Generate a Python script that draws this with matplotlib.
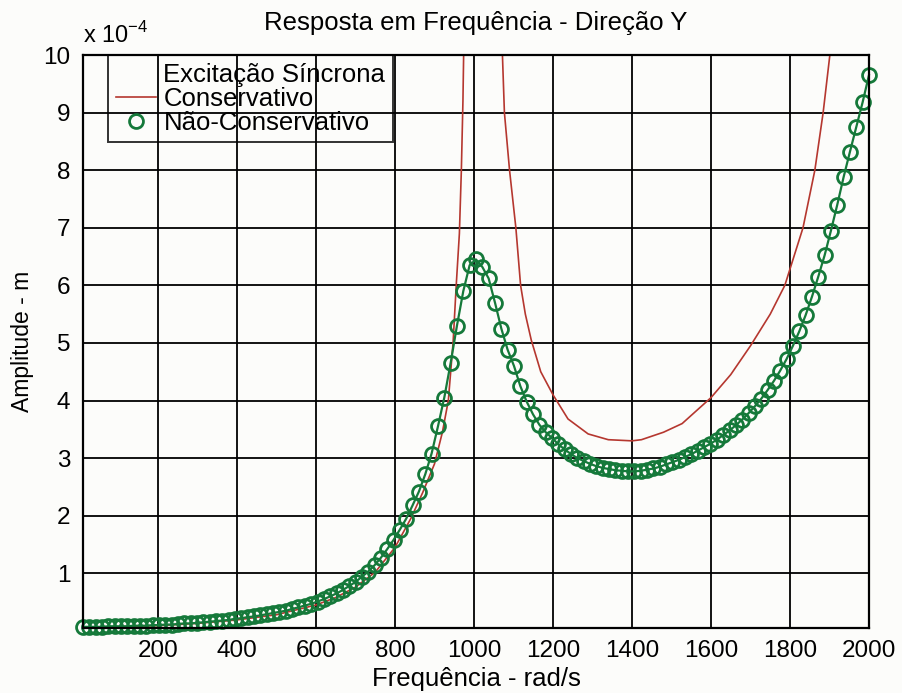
import numpy as np
import matplotlib
matplotlib.use("Agg")
import matplotlib.pyplot as plt
from matplotlib.lines import Line2D

plt.rcParams['font.family'] = ['Liberation Sans', 'DejaVu Sans']
plt.rcParams['mathtext.fontset'] = 'custom'
plt.rcParams['mathtext.rm'] = 'Liberation Sans'

# frequencia (rad/s) das amostras do caso nao-conservativo
freq = np.linspace(10, 2000, 125)

# amplitude nao-conservativo (x 1e-4 m)
amp_nc = [0.07, 0.07, 0.07, 0.07, 0.08, 0.08, 0.08, 0.08, 0.09, 0.09,
          0.09, 0.10, 0.10, 0.11, 0.11, 0.12, 0.13, 0.13, 0.14, 0.15,
          0.16, 0.17, 0.18, 0.19, 0.21, 0.22, 0.24, 0.25, 0.27, 0.29,
          0.31, 0.33, 0.35, 0.38, 0.41, 0.44, 0.47, 0.51, 0.55, 0.60,
          0.65, 0.71, 0.78, 0.85, 0.94, 1.03, 1.14, 1.27, 1.42, 1.58,
          1.76, 1.95, 2.18, 2.42, 2.72, 3.08, 3.55, 4.05, 4.65, 5.30,
          5.90, 6.35, 6.45, 6.32, 6.12, 5.70, 5.25, 4.88, 4.60, 4.25,
          3.98, 3.76, 3.58, 3.45, 3.35, 3.24, 3.15, 3.07, 3.00, 2.95,
          2.90, 2.86, 2.83, 2.81, 2.79, 2.78, 2.77, 2.77, 2.78, 2.80,
          2.82, 2.85, 2.89, 2.93, 2.97, 3.02, 3.07, 3.13, 3.19, 3.25,
          3.32, 3.40, 3.48, 3.57, 3.67, 3.78, 3.90, 4.03, 4.18, 4.34,
          4.52, 4.72, 4.95, 5.20, 5.48, 5.80, 6.15, 6.52, 6.95, 7.40,
          7.88, 8.32, 8.75, 9.18, 9.65]

# caso conservativo (x 1e-4 m), nan separa os dois ramos da ressonancia
freq_c = [10, 100, 200, 300, 400, 500, 600, 650, 700, 750,
          800, 840, 870, 900, 920, 935, 947, 955, 963, 968,
          972, 976, 982, np.nan, 1062, 1068, 1072, 1077, 1090, 1106,
          1118, 1130, 1145, 1169, 1200, 1238, 1289, 1340, 1400, 1424,
          1480, 1527, 1600, 1650, 1700, 1750, 1787, 1833, 1863, 1884,
          1901, 1915]
amp_c = [0.06, 0.07, 0.09, 0.13, 0.19, 0.28, 0.45, 0.58, 0.76, 1.02,
         1.45, 1.95, 2.40, 2.90, 3.45, 4.00, 5.00, 6.00, 6.90, 8.00,
         9.20, 11.0, 15.0, np.nan, 15.0, 11.0, 10.0, 9.00, 8.00, 7.00,
         6.00, 5.50, 5.05, 4.50, 4.10, 3.68, 3.42, 3.32, 3.30, 3.32,
         3.45, 3.60, 4.05, 4.45, 4.95, 5.50, 6.00, 7.00, 8.00, 9.00,
         10.0, 11.0]

xticks = [200, 400, 600, 800, 1000, 1200, 1400, 1600, 1800, 2000]
yticks = [1, 2, 3, 4, 5, 6, 7, 8, 9, 10]

red = '#b5372f'
green = '#15793a'
bg = '#fcfcfa'

fig = plt.figure(figsize=(9.03, 6.93), dpi=100, facecolor=bg)
ax = fig.add_axes([0.0919, 0.0938, 0.8704, 0.8268], facecolor=bg)

ax.plot(freq_c, amp_c, color=red, lw=1.2, zorder=3)
ax.plot(freq, amp_nc, color=green, lw=1.6, marker='o', ms=10,
        mfc='none', mec=green, mew=2.0, clip_on=False, zorder=4)

ax.set_xlim(10, 2000)
ax.set_ylim(0.05, 10)
ax.set_xticks(xticks)
ax.set_yticks(yticks)
ax.tick_params(length=0, labelsize=17.5, pad=9)
ax.grid(True, color='black', lw=1.3)
ax.set_axisbelow(True)
for s in ax.spines.values():
    s.set_linewidth(1.6)
    s.set_zorder(5)

ax.set_title('Resposta em Frequência - Direção Y', fontsize=18.5, pad=18)
ax.set_xlabel('Frequência - rad/s', fontsize=18.5, labelpad=3)
ax.set_ylabel('Amplitude - m', fontsize=16.5, labelpad=7)
ax.text(0, 1.012, r'x 10$^{-4}$', transform=ax.transAxes, fontsize=17,
        ha='left', va='bottom')

handles = [Line2D([], [], color='none'),
           Line2D([], [], color=red, lw=1.2),
           Line2D([], [], color='none', marker='o', ms=10, mfc='none',
                  mec=green, mew=2.0)]
labels = ['Excitação Síncrona', 'Conservativo', 'Não-Conservativo']
leg = ax.legend(handles, labels, loc='upper left', bbox_to_anchor=(0.032, 1.0),
                borderaxespad=0, fontsize=18.5, frameon=True, fancybox=False,
                edgecolor='black', facecolor='none', framealpha=None,
                handlelength=1.55, handletextpad=0.3, borderpad=0.3,
                labelspacing=0.0)
leg.get_frame().set_linewidth(1.4)
leg.set_zorder(6)

fig.savefig('out.png', dpi=100, facecolor=bg)
